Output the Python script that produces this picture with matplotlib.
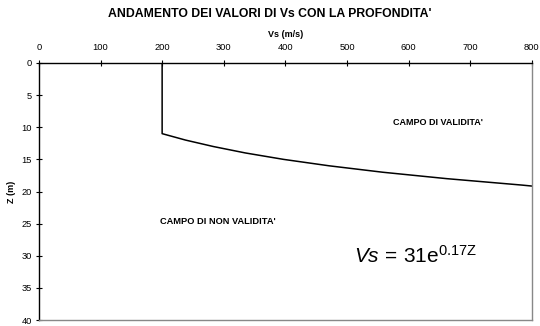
import matplotlib
matplotlib.use('Agg')
from matplotlib import pyplot as plt

plt.rcParams['font.family'] = ['Liberation Sans', 'DejaVu Sans']
plt.rcParams['mathtext.fontset'] = 'custom'
plt.rcParams['mathtext.rm'] = 'Liberation Sans'
plt.rcParams['mathtext.it'] = 'Liberation Sans:italic'

## DATA
VS = [200, 200, 238, 283, 335, 397, 471, 558, 662, 784, 800]
Z = [0, 11, 12, 13, 14, 15, 16, 17, 18, 19, 19.15]
X_TICKS = [0, 100, 200, 300, 400, 500, 600, 700, 800]
Y_TICKS = [0, 5, 10, 15, 20, 25, 30, 35, 40]
TITLE = "ANDAMENTO DEI VALORI DI Vs CON LA PROFONDITA'"

fig = plt.figure(figsize=(5.4, 3.26), dpi=100)
ax = fig.add_axes([0.072, 0.018, 0.913, 0.789])

ax.plot(VS, Z, color='black', lw=1.1)

ax.set_xlim(0, 800)
ax.set_ylim(40, 0)
ax.xaxis.tick_top()
ax.xaxis.set_label_position('top')
ax.set_xticks(X_TICKS)
ax.set_yticks(Y_TICKS)
ax.tick_params(axis='both', direction='inout', length=4, width=0.8,
               labelsize=6.7, colors='black')
ax.tick_params(axis='x', pad=6)
ax.tick_params(axis='y', pad=3)

for s in ['left', 'top']:
	ax.spines[s].set_color('black')
	ax.spines[s].set_linewidth(1.0)
for s in ['right', 'bottom']:
	ax.spines[s].set_color('#888888')
	ax.spines[s].set_linewidth(1.0)

ax.set_xlabel('Vs (m/s)', fontsize=6.5, fontweight='bold', labelpad=4)
ax.set_ylabel('Z (m)', fontsize=6.5, fontweight='bold', labelpad=4)

ax.text(647, 9.3, "CAMPO DI VALIDITA'", fontsize=6.5, fontweight='bold',
	ha='center', va='center')
ax.text(291, 24.6, "CAMPO DI NON VALIDITA'", fontsize=6.7, fontweight='bold',
	ha='center', va='center')
ax.text(612, 30, r'$\mathit{Vs}\,=\,31\mathrm{e}^{0.17\mathrm{Z}}$', fontsize=15,
	ha='center', va='center')

fig.text(0.5, 0.957, TITLE, fontsize=8.8, fontweight='bold', ha='center', va='center')

fig.savefig('out.png', dpi=100)
